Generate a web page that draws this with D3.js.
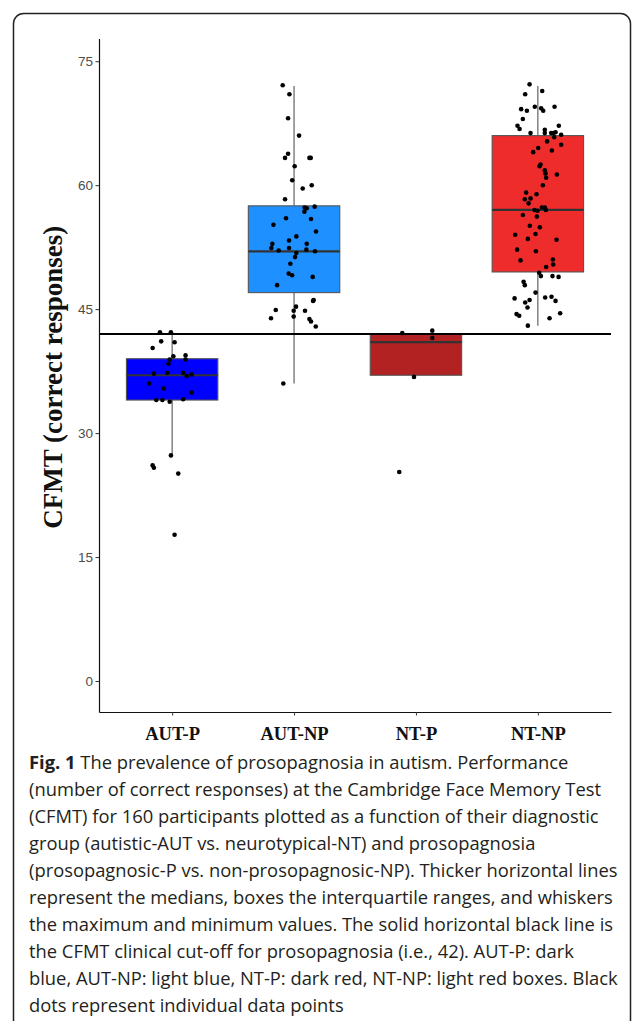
<!DOCTYPE html>
<html>
<head>
<meta charset="utf-8">
<script src="https://cdn.jsdelivr.net/npm/d3@7"></script>
<style>
  body { margin: 0; background: #fff; }
  svg { display: block; }
</style>
</head>
<body>
<div id="chart"></div>
<script>
// data
var groups = ['AUT-P', 'AUT-NP', 'NT-P', 'NT-NP'];
var boxColors = ['#0000ff', '#1e90ff', '#b22222', '#ee2c2c'];
var whiskerLow = [27.3, 36, 37, 43];
var quartile1 = [34, 47, 37, 49.5];
var medians = [37, 52, 41, 57];
var quartile3 = [39, 57.5, 42, 66];
var whiskerHigh = [42, 72, 42, 72];
var cutoff = 42;
var yTicks = [0, 15, 30, 45, 60, 75];

// jittered points: [score, horizontal jitter as a fraction of the category step]
var autP = [
  [42.2, -0.10], [42.2, -0.01], [41.1, -0.09], [41.0, 0.02], [40.3, -0.16], [39.3, 0.01],
  [39.4, 0.11], [38.9, -0.02], [38.9, 0.11], [38.4, -0.03], [37.2, -0.15], [37.3, -0.04],
  [37.3, 0.09], [36.9, 0.12], [37.1, 0.16], [36.0, -0.19], [35.4, -0.07], [34.9, 0.16],
  [34.0, -0.13], [34.0, -0.08], [33.8, -0.02], [34.1, 0.09], [27.3, -0.01], [26.1, -0.16],
  [25.8, -0.15], [25.1, 0.05], [17.7, 0.02]
];
var autNP = [
  [72.1, -0.093], [71.0, -0.038], [68.1, -0.049], [66.0, 0.041], [63.8, -0.049], [63.3, -0.074],
  [63.3, 0.126], [63.3, 0.137], [62.3, 0.005], [60.6, -0.015], [59.6, 0.071], [60.0, 0.145],
  [58.3, -0.074], [57.4, 0.169], [57.3, 0.087], [57.2, 0.104], [56.8, 0.085], [56.0, -0.066],
  [55.9, 0.139], [55.2, -0.169], [54.4, 0.180], [53.8, 0.019], [53.3, -0.041], [52.9, -0.178],
  [52.9, 0.104], [52.4, -0.186], [52.4, -0.041], [52.1, -0.126], [52.2, 0.101], [52.0, 0.172],
  [51.8, 0.019], [51.3, 0.008], [50.5, -0.030], [49.3, -0.044], [49.1, -0.016], [48.9, 0.153],
  [47.9, -0.139], [46.1, 0.161], [46.0, 0.156], [45.3, 0.016], [44.9, -0.150], [44.8, 0.090],
  [44.8, -0.003], [43.9, -0.189], [44.1, -0.003], [43.8, 0.126], [43.5, 0.139], [42.9, 0.178],
  [36.0, -0.088]
];
var ntP = [
  [42.1, -0.112], [42.4, 0.134], [41.5, 0.134], [36.8, -0.016], [25.3, -0.137]
];
var ntNP = [
  [72.2, -0.068], [71.0, -0.104], [71.4, 0.036], [69.2, -0.137], [69.0, -0.090], [69.5, -0.025],
  [69.3, 0.027], [69.0, 0.044], [69.5, 0.137], [68.0, -0.123], [67.2, -0.167], [66.8, -0.150],
  [67.2, 0.172], [66.3, -0.060], [66.7, 0.057], [66.3, 0.057], [66.3, 0.128], [66.4, 0.145],
  [66.3, 0.109], [66.1, 0.191], [65.8, 0.134], [65.3, 0.076], [64.5, 0.003], [64.9, 0.191],
  [64.0, -0.038], [64.2, 0.115], [62.5, 0.022], [62.3, 0.014], [61.8, 0.057], [61.4, 0.063],
  [61.3, 0.156], [60.9, 0.068], [60.0, 0.041], [59.1, -0.096], [58.9, -0.011], [58.3, -0.107],
  [58.4, -0.060], [57.8, -0.076], [57.0, -0.027], [57.3, 0.033], [57.3, 0.057], [56.9, -0.003],
  [57.0, 0.066], [56.4, -0.123], [56.2, -0.008], [55.1, -0.066], [54.9, 0.016], [54.0, -0.186],
  [54.1, -0.019], [53.5, -0.082], [53.4, 0.153], [52.2, -0.170], [52.0, -0.016], [50.9, -0.142],
  [51.0, 0.123], [50.4, 0.126], [50.1, 0.068], [49.4, 0.011], [49.0, 0.025], [49.0, 0.120],
  [48.9, 0.170], [48.3, -0.117], [47.9, -0.107], [47.0, -0.019], [46.3, -0.191], [46.4, 0.060],
  [46.5, 0.112], [45.8, -0.104], [46.1, -0.068], [46.0, 0.145], [45.2, -0.085], [44.4, -0.175],
  [44.2, -0.153], [43.9, 0.096], [44.5, 0.183], [43.0, -0.082]
];
var pointSets = [autP, autNP, ntP, ntNP];

var captionBold = 'Fig. 1';
var captionLines = [
  ' The prevalence of prosopagnosia in autism. Performance',
  '(number of correct responses) at the Cambridge Face Memory Test',
  '(CFMT) for 160 participants plotted as a function of their diagnostic',
  'group (autistic-AUT vs. neurotypical-NT) and prosopagnosia',
  '(prosopagnosic-P vs. non-prosopagnosic-NP). Thicker horizontal lines',
  'represent the medians, boxes the interquartile ranges, and whiskers',
  'the maximum and minimum values. The solid horizontal black line is',
  'the CFMT clinical cut-off for prosopagnosia (i.e., 42). AUT-P: dark',
  'blue, AUT-NP: light blue, NT-P: dark red, NT-NP: light red boxes. Black',
  'dots represent individual data points'
];

// dimensions
var dimensions = {
  width: 633,
  height: 1021,
  panel: { left: 99, right: 611, top: 38.5, bottom: 712 }
};

var svg = d3.select('#chart')
  .append('svg')
  .attr('width', dimensions.width)
  .attr('height', dimensions.height);

// frame
svg.append('rect')
  .attr('x', 13.5)
  .attr('y', 13.5)
  .attr('width', 617)
  .attr('height', 1040)
  .attr('rx', 10)
  .attr('fill', 'none')
  .attr('stroke', '#222')
  .attr('stroke-width', 1.5);

// scales
var xScale = d3.scalePoint()
  .domain(groups)
  .range([dimensions.panel.left, dimensions.panel.right])
  .padding(0.6);

var yScale = d3.scaleLinear()
  .domain([-3.75, 77.75])
  .range([dimensions.panel.bottom, dimensions.panel.top]);

var step = xScale.step();
var boxWidth = step * 0.75;

var plot = svg.append('g');

// whiskers
groups.forEach(function(g, i) {
  var cx = xScale(g);
  plot.append('line')
    .attr('x1', cx).attr('x2', cx)
    .attr('y1', yScale(whiskerLow[i])).attr('y2', yScale(quartile1[i]))
    .attr('stroke', '#555').attr('stroke-width', 1.1);
  plot.append('line')
    .attr('x1', cx).attr('x2', cx)
    .attr('y1', yScale(quartile3[i])).attr('y2', yScale(whiskerHigh[i]))
    .attr('stroke', '#555').attr('stroke-width', 1.1);
});

// boxes
plot.selectAll('rect.box')
  .data(groups)
  .join('rect')
  .attr('class', 'box')
  .attr('x', d => xScale(d) - boxWidth / 2)
  .attr('width', boxWidth)
  .attr('y', (d, i) => yScale(quartile3[i]))
  .attr('height', (d, i) => yScale(quartile1[i]) - yScale(quartile3[i]))
  .attr('fill', (d, i) => boxColors[i])
  .attr('stroke', '#555')
  .attr('stroke-width', 1.1);

plot.selectAll('line.median')
  .data(groups)
  .join('line')
  .attr('class', 'median')
  .attr('x1', d => xScale(d) - boxWidth / 2)
  .attr('x2', d => xScale(d) + boxWidth / 2)
  .attr('y1', (d, i) => yScale(medians[i]))
  .attr('y2', (d, i) => yScale(medians[i]))
  .attr('stroke', '#333')
  .attr('stroke-width', 2.2);

// cut-off line
plot.append('line')
  .attr('x1', dimensions.panel.left)
  .attr('x2', dimensions.panel.right)
  .attr('y1', yScale(cutoff))
  .attr('y2', yScale(cutoff))
  .attr('stroke', '#000')
  .attr('stroke-width', 2);

// points
groups.forEach(function(g, i) {
  plot.append('g')
    .selectAll('circle')
    .data(pointSets[i])
    .join('circle')
    .attr('cx', d => xScale(g) + d[1] * step)
    .attr('cy', d => yScale(d[0]))
    .attr('r', 2.3)
    .attr('fill', '#000');
});

// axes
var yAxis = d3.axisLeft(yScale)
  .tickValues(yTicks)
  .tickSize(3.5)
  .tickPadding(2.5)
  .tickSizeOuter(0);

var yAxisGroup = svg.append('g')
  .attr('transform', 'translate(' + dimensions.panel.left + ',0)')
  .call(yAxis);
yAxisGroup.select('.domain').attr('stroke', '#111').attr('stroke-width', 1.2);
yAxisGroup.selectAll('.tick line').attr('stroke', '#333');
yAxisGroup.selectAll('.tick text')
  .attr('fill', '#4d4d4d')
  .style('font-family', '"Liberation Sans", Arial, sans-serif')
  .style('font-size', '13.5px');

var xAxis = d3.axisBottom(xScale)
  .tickSize(3.5)
  .tickPadding(11)
  .tickSizeOuter(0);

var xAxisGroup = svg.append('g')
  .attr('transform', 'translate(0,' + dimensions.panel.bottom + ')')
  .call(xAxis);
xAxisGroup.select('.domain').attr('stroke', '#111').attr('stroke-width', 1.2);
xAxisGroup.selectAll('.tick line').attr('stroke', '#333');
xAxisGroup.selectAll('.tick text')
  .attr('fill', '#111')
  .style('font-family', '"Liberation Serif", "Times New Roman", serif')
  .style('font-weight', 'bold')
  .style('font-size', '18.5px');

svg.append('text')
  .attr('transform', 'translate(61.5,' + ((dimensions.panel.top + dimensions.panel.bottom) / 2 + 2) + ') rotate(-90)')
  .attr('text-anchor', 'middle')
  .attr('fill', '#111')
  .style('font-family', '"Liberation Serif", "Times New Roman", serif')
  .style('font-weight', 'bold')
  .style('font-size', '27px')
  .text('CFMT (correct responses)');

// caption
var caption = svg.append('g')
  .style('font-family', '"Open Sans", "Noto Sans", sans-serif')
  .attr('fill', '#231f20');

var lines = caption.selectAll('text')
  .data(captionLines)
  .join('text')
  .attr('x', 29)
  .attr('y', (d, i) => 769 + i * 27)
  .style('font-size', '17px');

lines.each(function(d, i) {
  var t = d3.select(this);
  if (i === 0) {
    t.append('tspan').style('font-weight', 'bold').text(captionBold);
  }
  t.append('tspan').text(d);
});

// fit the caption width to the reference
var widest = d3.max(lines.nodes(), n => n.getComputedTextLength());
var size = 17 * 589 / widest;
lines.style('font-size', size + 'px');
</script>
</body>
</html>
